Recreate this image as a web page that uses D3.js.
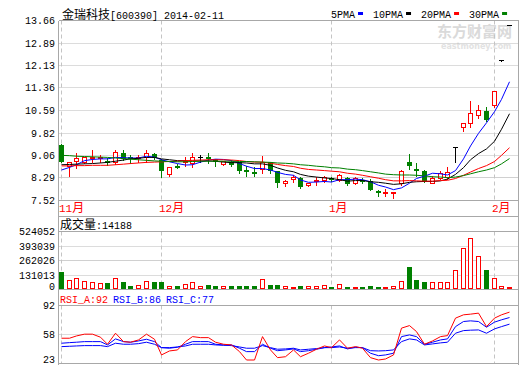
<!DOCTYPE html>
<html><head><meta charset="utf-8">
<script src="https://cdn.jsdelivr.net/npm/d3@7"></script>
<style>body{margin:0;background:#fff}svg{display:block}</style>
</head><body>
<svg id="c" width="520" height="365"></svg>
<script>
// ---------------- data ----------------
const title = "金瑞科技[600390] 2014-02-11";
const dates = [
 "2013-11-13","2013-11-14","2013-11-15","2013-11-18","2013-11-19","2013-11-20","2013-11-21","2013-11-22","2013-11-25","2013-11-26","2013-11-27","2013-11-28","2013-11-29",
 "2013-12-02","2013-12-03","2013-12-04","2013-12-05","2013-12-06","2013-12-09","2013-12-10","2013-12-11","2013-12-12","2013-12-13","2013-12-16","2013-12-17","2013-12-18","2013-12-19","2013-12-20","2013-12-23","2013-12-24","2013-12-25","2013-12-26","2013-12-27","2013-12-30","2013-12-31",
 "2014-01-02","2014-01-03","2014-01-06","2014-01-07","2014-01-08","2014-01-09","2014-01-10","2014-01-13","2014-01-14","2014-01-15","2014-01-16","2014-01-17","2014-01-20","2014-01-21","2014-01-22","2014-01-23","2014-01-24","2014-01-27","2014-01-28","2014-01-29","2014-01-30",
 "2014-02-07","2014-02-10","2014-02-11"];
const open  = [9.42,8.68,8.85,8.82,8.98,8.96,8.88,8.80,9.14,8.99, 8.97,8.98,9.10,8.89,8.41,8.71,8.84,8.79,8.98,8.99, 8.94,8.74,8.85,8.82,8.57,8.49,8.57,8.82,8.51,8.09, 8.25,8.28,8.02,8.17,8.20,8.29,8.21,8.30,8.09,8.23, 8.19,7.83,7.76,7.79,8.09,8.83,8.60,8.51,8.11,8.28, 8.32,9.32,10.02,10.16,10.43,10.59,10.75,12.28,13.50];
const high  = [9.45,8.85,9.14,9.02,9.25,9.08,8.98,9.23,9.25,9.08, 9.08,9.24,9.15,8.93,8.65,8.77,8.99,9.15,9.08,9.13, 8.94,8.85,8.89,8.82,8.69,8.66,9.03,8.84,8.51,8.23, 8.40,8.31,8.12,8.31,8.36,8.33,8.42,8.33,8.31,8.28, 8.24,7.87,7.90,7.80,8.57,9.11,8.80,8.57,8.34,8.51, 8.66,9.32,10.17,10.93,10.78,10.72,11.23,12.28,13.50];
const low   = [8.84,8.37,8.64,8.80,8.85,8.85,8.74,8.75,8.91,8.81, 8.85,8.85,8.94,8.32,8.36,8.62,8.68,8.65,8.84,8.81, 8.70,8.74,8.70,8.47,8.36,8.34,8.47,8.45,7.99,8.00, 8.16,7.95,8.01,8.06,8.14,8.19,8.17,8.06,8.07,8.12, 7.87,7.69,7.68,7.61,8.06,8.59,8.34,8.16,8.11,8.25, 8.25,8.85,9.88,10.02,10.32,10.24,10.70,12.28,13.50];
const close = [8.85,8.80,8.94,8.99,9.00,8.98,8.80,9.16,8.94,8.98, 8.98,9.11,8.97,8.51,8.64,8.69,8.86,8.98,8.98,8.97, 8.85,8.84,8.74,8.51,8.53,8.45,8.81,8.51,8.12,8.17, 8.31,7.99,8.09,8.19,8.29,8.21,8.37,8.09,8.28,8.19, 7.87,7.79,7.78,7.80,8.52,8.68,8.58,8.17,8.28,8.45, 8.47,9.32,10.16,10.50,10.60,10.25,11.23,12.28,13.50];
const volume = [154000,81000,97000,75000,60000,51000,57000,97000,66000,36000, 36000,72000,66000,66000,27000,36000,45000,66000,27000,45000, 36000,27000,36000,36000,30000,30000,90000,45000,45000,27000, 18000,36000,24000,27000,36000,27000,45000,27000,18000,27000, 36000,27000,18000,27000,72000,199000,90000,72000,63000,63000, 63000,172000,368000,458000,298000,172000,97000,27000,14188];
const ma5  = [8.56,8.65,8.74,8.88,8.92,8.94,8.94,8.99,8.98,8.97, 8.97,9.03,9.00,8.91,8.84,8.78,8.73,8.74,8.83,8.90, 8.93,8.92,8.88,8.78,8.69,8.61,8.61,8.56,8.48,8.41, 8.38,8.22,8.14,8.15,8.17,8.15,8.23,8.23,8.25,8.23, 8.16,8.04,7.98,7.89,7.95,8.11,8.27,8.35,8.45,8.43, 8.39,8.54,8.94,9.38,9.81,10.17,10.55,10.97,11.57];
const ma10 = [8.74,8.75,8.76,8.77,8.78,8.80,8.82,8.86,8.90,8.94, 8.96,8.99,8.99,8.94,8.91,8.88,8.88,8.87,8.87,8.87, 8.86,8.83,8.81,8.81,8.80,8.77,8.77,8.72,8.63,8.55, 8.50,8.41,8.35,8.32,8.29,8.27,8.23,8.18,8.20,8.20, 8.16,8.14,8.11,8.07,8.09,8.14,8.16,8.17,8.17,8.19, 8.25,8.41,8.64,8.91,9.12,9.28,9.54,9.95,10.48];
const ma20 = [8.70,8.70,8.71,8.71,8.72,8.72,8.72,8.74,8.76,8.78, 8.80,8.82,8.83,8.84,8.85,8.86,8.88,8.89,8.90,8.91, 8.91,8.91,8.90,8.88,8.85,8.83,8.83,8.79,8.75,8.71, 8.68,8.62,8.58,8.56,8.54,8.52,8.50,8.45,8.42,8.38, 8.33,8.28,8.23,8.19,8.19,8.20,8.19,8.18,8.18,8.20, 8.21,8.27,8.38,8.49,8.61,8.71,8.85,9.06,9.32];
const ma30 = [9.06,9.05,9.03,9.02,9.01,9.00,8.99,8.97,8.95,8.93, 8.91,8.89,8.87,8.86,8.85,8.84,8.84,8.85,8.86,8.86, 8.86,8.86,8.86,8.85,8.85,8.84,8.83,8.82,8.80,8.79, 8.77,8.74,8.72,8.69,8.67,8.64,8.63,8.59,8.57,8.54, 8.50,8.46,8.42,8.40,8.39,8.39,8.38,8.36,8.33,8.32, 8.30,8.32,8.37,8.43,8.50,8.56,8.64,8.77,8.95];
const rsiA = [53.4,53.4,56.1,58.2,58.2,54.6,46.3,59.3,49.4,48.7, 51.4,58.2,52.2,33.7,38.4,39.6,49.4,55.3,54.1,54.1, 48.7,46.3,45.5,37.6,27.7,27.7,55.3,39.6,30.5,31.6, 39.6,31.6,35.7,40.4,44.3,42.3,51.4,41.6,43.5,41.6, 30.5,27.7,28.9,33.7,65.3,68.3,61.2,46.3,50.2,55.3, 56.5,77.1,81.0,81.8,83.0,67.1,77.1,81.0,84.2];
const rsiB = [47.5,48.2,48.7,49.4,49.4,49.4,45.5,52.6,49.4,48.7, 50.2,52.2,49.4,42.3,41.6,42.8,46.3,49.4,49.4,49.4, 46.3,45.5,45.5,41.6,37.6,37.6,46.3,41.6,38.7,39.6, 40.8,37.6,38.7,40.4,42.3,43.1,44.3,40.8,42.8,42.3, 35.7,32.8,33.7,35.7,55.3,57.3,55.3,46.3,48.7,51.4, 52.6,67.1,73.1,73.9,73.1,66.4,72.4,75.1,77.8];
const rsiC = [43.5,43.9,44.3,44.7,44.7,44.7,43.5,47.5,46.3,46.3, 47.0,48.7,46.3,42.3,42.3,43.1,44.3,46.3,46.3,46.3, 45.5,45.1,44.7,43.1,41.6,41.6,44.7,42.3,40.4,40.8, 41.6,39.6,40.4,41.2,42.3,42.3,43.1,41.6,42.3,42.3, 38.7,38.4,38.7,39.6,49.4,52.6,51.4,45.5,46.7,47.9, 48.7,59.3,62.4,62.9,63.2,59.3,64.4,67.1,70.0];
const priceTicks = [7.52,8.29,9.06,9.82,10.59,11.36,12.13,12.89,13.66];
const volTicks = [0,131013,262026,393039,524052];
const rsiTicks = [23,58,92];
const maNames = ["5PMA","10PMA","20PMA","30PMA"];
const volTitle = "成交量:14188";
const rsiNames = ["RSI_A:92","RSI_B:86","RSI_C:77"];
const monthNames = {"11":"11月","12":"12月","01":"1月","02":"2月"};

// ---------------- styles ----------------
const RED="#ff0000", GREEN="#008000", BLUE="#0000ff", BLACK="#000000";
const maColors=[BLUE,BLACK,RED,GREEN];
const rsiColors=[RED,BLUE,BLUE];
const FRAME="#a8a8a8", GRID="#b8b8b8";
const MONO="'Liberation Mono','DejaVu Sans Mono',monospace";
const CJK="'Noto Sans CJK SC','Noto Sans',sans-serif";

const svg=d3.select("#c");
const LEFT=58.5, RIGHT=518.5;
const PT=20.5, PB=200.5, VT=231.5, VB=289.5, RT=305.5, RB=363.5;

const x=d3.scaleBand().domain(dates).range([57,513]).paddingInner(0.35).paddingOuter(0.175);
const cx=d=>Math.round(x(d)+x.bandwidth()/2)+0.5;
const yP=d3.scaleLinear().domain([7.52,13.66]).range([PB,PT]);
const yV=d3.scaleLinear().domain([0,524052]).range([VB,VT]);
const yR=d3.scaleLinear().domain([23,92]).range([364,305.5]);
const crisp=v=>Math.round(v-0.5)+0.5;

function rich(sel,str,cjkSize,asciiSize){
  const runs=str.match(/[\u3000-\u9fff]+|[^\u3000-\u9fff]+/g);
  runs.forEach(r=>{
    const c=/[\u3000-\u9fff]/.test(r);
    sel.append("tspan").text(r).attr("font-family",c?CJK:MONO).attr("font-size",c?cjkSize:asciiSize);
  });
  return sel;
}

// watermark
const wm=svg.append("g").attr("font-weight","bold");
wm.append("text").attr("x",437).attr("y",37).attr("font-family",CJK).attr("font-size",15).attr("fill","#dadada").text("东方财富网");
wm.append("text").attr("x",441).attr("y",49).attr("font-family","'DejaVu Sans',sans-serif").attr("font-size",8).attr("fill","#e2e2e2").text("eastmoney.com");

// grid lines
const grid=svg.append("g");
const solidP=new Set([8.29]), solidV=new Set([262026]);
priceTicks.slice(1,-1).forEach(t=>{
  grid.append("line").attr("x1",LEFT).attr("x2",RIGHT).attr("y1",crisp(yP(t))).attr("y2",crisp(yP(t)))
    .attr("stroke",solidP.has(t)?"#d0d0d0":GRID).attr("stroke-dasharray",solidP.has(t)?null:"1,1");
});
volTicks.slice(1,-1).forEach(t=>{
  grid.append("line").attr("x1",LEFT).attr("x2",RIGHT).attr("y1",crisp(yV(t))).attr("y2",crisp(yV(t)))
    .attr("stroke",solidV.has(t)?"#d0d0d0":GRID).attr("stroke-dasharray",solidV.has(t)?null:"1,1");
});
rsiTicks.slice(1,-1).forEach(t=>{
  grid.append("line").attr("x1",LEFT).attr("x2",RIGHT).attr("y1",crisp(yR(t))).attr("y2",crisp(yR(t)))
    .attr("stroke",GRID).attr("stroke-dasharray","1,1");
});

// month boundaries
const monthStarts=dates.filter((d,i)=>i===0||d.slice(5,7)!==dates[i-1].slice(5,7));
monthStarts.forEach(d=>{
  [[PT,PB],[VT,VB],[RT,RB]].forEach(([a,b])=>{
    grid.append("line").attr("x1",cx(d)).attr("x2",cx(d)).attr("y1",a).attr("y2",b)
      .attr("stroke","#c4c4c4").attr("stroke-dasharray","4,3");
  });
  rich(svg.append("text").attr("x",cx(d)-2.5).attr("y",212).attr("fill",RED),monthNames[d.slice(5,7)],12,11);
});

// frame
const fr=svg.append("g").attr("stroke",FRAME).attr("shape-rendering","crispEdges");
[PT,PB,216.5,VT,VB,RT,RB].forEach(y=>fr.append("line").attr("x1",LEFT).attr("x2",RIGHT).attr("y1",y).attr("y2",y));
fr.append("line").attr("x1",LEFT).attr("x2",LEFT).attr("y1",PT).attr("y2",365);
fr.append("line").attr("x1",RIGHT).attr("x2",RIGHT).attr("y1",PT).attr("y2",365);

// candles
const cg=svg.append("g");
dates.forEach((d,i)=>{
  const c=cx(d), o=open[i], cl=close[i];
  const col=cl>o?RED:cl<o?GREEN:BLACK;
  cg.append("line").attr("x1",c).attr("x2",c).attr("y1",Math.round(yP(high[i]))).attr("y2",Math.round(yP(low[i]))+1).attr("stroke",col);
  const top=yP(Math.max(o,cl)), bot=yP(Math.min(o,cl));
  if(cl>o){
    const t=crisp(top), b=Math.max(crisp(bot),t+1);
    cg.append("rect").attr("x",c-2).attr("y",t).attr("width",4).attr("height",b-t).attr("fill","#fff").attr("stroke",RED);
  } else if(cl<o){
    const t=Math.round(top), b=Math.max(Math.round(bot),t+2);
    cg.append("rect").attr("x",c-2.5).attr("y",t).attr("width",5).attr("height",b-t).attr("fill",GREEN);
  } else {
    const t=crisp(top);
    cg.append("line").attr("x1",c-2.5).attr("x2",c+2.5).attr("y1",t).attr("y2",t).attr("stroke",BLACK);
  }
});

// moving averages
[ma5,ma10,ma20,ma30].forEach((s,k)=>{
  svg.append("path").datum(s).attr("fill","none").attr("stroke",maColors[k]).attr("stroke-width",1)
    .attr("d",d3.line().x((v,i)=>cx(dates[i])).y(v=>yP(v)));
});

// volume bars
const vg=svg.append("g");
dates.forEach((d,i)=>{
  const c=cx(d), t=yV(volume[i]);
  if(close[i]>=open[i]){
    const tt=Math.min(crisp(t),VB-2);
    vg.append("rect").attr("x",c-2).attr("y",tt).attr("width",4).attr("height",VB-1-tt).attr("fill","#fff").attr("stroke",RED);
  } else {
    const tt=Math.round(t);
    vg.append("rect").attr("x",c-2.5).attr("y",tt).attr("width",5).attr("height",VB-0.5-tt).attr("fill",GREEN);
  }
});

// RSI lines
[rsiC,rsiB,rsiA].forEach((s,k)=>{
  svg.append("path").datum(s).attr("fill","none").attr("stroke",[BLUE,BLUE,RED][k]).attr("stroke-width",1)
    .attr("d",d3.line().x((v,i)=>cx(dates[i])).y(v=>yR(v)));
});

// axis labels
const lab=svg.append("g").attr("font-family",MONO).attr("font-size",10).attr("text-anchor","end").attr("fill","#000");
priceTicks.forEach(t=>lab.append("text").attr("x",55).attr("y",yP(t)+3.5).text(t.toFixed(2)));
volTicks.forEach(t=>lab.append("text").attr("x",55).attr("y",Math.min(yV(t),VB-3.5)+3.5).text(t));
rsiTicks.forEach(t=>lab.append("text").attr("x",55).attr("y",Math.min(yR(t),RB-4)+3.5).text(t));

// title
rich(svg.append("text").attr("x",62).attr("y",19).attr("fill","#000"),title,12,10);

// legend
let lx=331;
maNames.forEach((n,k)=>{
  const t=svg.append("text").attr("x",lx).attr("y",18).attr("font-family",MONO).attr("font-size",10).text(n);
  const w=t.node().getComputedTextLength();
  svg.append("rect").attr("x",lx+w+3).attr("y",12).attr("width",5).attr("height",3).attr("fill",maColors[k]);
  lx+=w+3+5+10;
});

// volume title
rich(svg.append("text").attr("x",60).attr("y",229).attr("fill","#000"),volTitle,12,10);

// RSI titles
let rx=60;
rsiNames.forEach((n,k)=>{
  const t=svg.append("text").attr("x",rx).attr("y",303).attr("font-family",MONO).attr("font-size",10).attr("fill",rsiColors[k]).text(n);
  rx+=t.node().getComputedTextLength()+5;
});
</script>
</body></html>
